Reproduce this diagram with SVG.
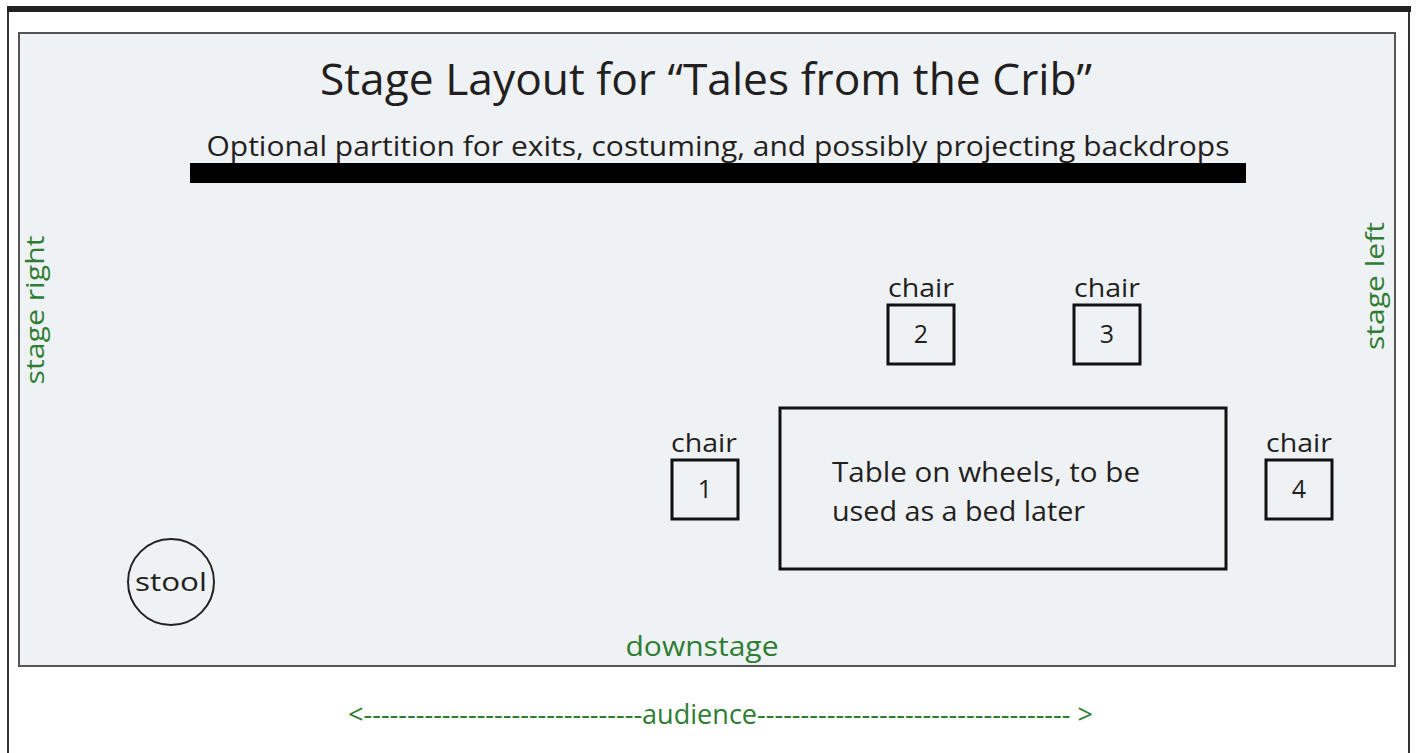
<svg xmlns="http://www.w3.org/2000/svg" width="1418" height="753" viewBox="0 0 1418 753">
<style>
.t{font-family:"Open Sans","Noto Sans","Liberation Sans",sans-serif;fill:#231f20}
.g{font-family:"Open Sans","Noto Sans","Liberation Sans",sans-serif;fill:#2e7d32}
.box{fill:none;stroke:#111;stroke-width:3}
</style>
<rect x="0" y="0" width="1418" height="753" fill="#fff"/>
<rect x="8" y="9" width="1401" height="760" fill="#fff" stroke="#333" stroke-width="2"/>
<rect x="7" y="6" width="1404" height="6" fill="#222"/>
<g id="stage">
<rect x="19" y="33" width="1376" height="633" fill="#eff2f5" stroke="#555" stroke-width="2"/>
</g>
<g id="title">
<text class="t" x="706" y="95" font-size="44" text-anchor="middle" textLength="772" lengthAdjust="spacingAndGlyphs">Stage Layout for “Tales from the Crib”</text>
</g>
<g id="partition">
<text class="t" x="718" y="156" font-size="28" text-anchor="middle" textLength="1023" lengthAdjust="spacingAndGlyphs">Optional partition for exits, costuming, and possibly projecting backdrops</text>
<rect x="190" y="163" width="1056" height="20" fill="#000"/>
</g>
<g id="stage-right">
<text class="g" transform="translate(44,310) rotate(-90)" font-size="26" text-anchor="middle" textLength="149" lengthAdjust="spacingAndGlyphs">stage right</text>
</g>
<g id="stage-left">
<text class="g" transform="translate(1384,286) rotate(-90)" font-size="26" text-anchor="middle" textLength="128" lengthAdjust="spacingAndGlyphs">stage left</text>
</g>
<g id="chair2">
<text class="t" x="921" y="297" font-size="26" text-anchor="middle" textLength="66" lengthAdjust="spacingAndGlyphs">chair</text>
<rect class="box" x="888" y="305" width="66" height="59"/>
<text class="t" x="921" y="343" font-size="25" text-anchor="middle">2</text>
</g>
<g id="chair3">
<text class="t" x="1107" y="297" font-size="26" text-anchor="middle" textLength="66" lengthAdjust="spacingAndGlyphs">chair</text>
<rect class="box" x="1074" y="305" width="66" height="59"/>
<text class="t" x="1107" y="343" font-size="25" text-anchor="middle">3</text>
</g>
<g id="chair1">
<text class="t" x="704" y="452" font-size="26" text-anchor="middle" textLength="66" lengthAdjust="spacingAndGlyphs">chair</text>
<rect class="box" x="672" y="460" width="66" height="59"/>
<text class="t" x="705" y="498" font-size="25" text-anchor="middle">1</text>
</g>
<g id="chair4">
<text class="t" x="1299" y="452" font-size="26" text-anchor="middle" textLength="66" lengthAdjust="spacingAndGlyphs">chair</text>
<rect class="box" x="1266" y="460" width="66" height="59"/>
<text class="t" x="1299" y="498" font-size="25" text-anchor="middle">4</text>
</g>
<g id="table">
<rect class="box" x="780" y="408" width="446" height="161"/>
<text class="t" x="832" y="482" font-size="27" textLength="308" lengthAdjust="spacingAndGlyphs">Table on wheels, to be</text>
<text class="t" x="832" y="521" font-size="27" textLength="253" lengthAdjust="spacingAndGlyphs">used as a bed later</text>
</g>
<g id="stool">
<circle cx="171" cy="582" r="43" fill="none" stroke="#222" stroke-width="2"/>
<text class="t" x="171" y="591" font-size="26" text-anchor="middle" textLength="72" lengthAdjust="spacingAndGlyphs">stool</text>
</g>
<g id="downstage">
<text class="g" x="702" y="656" font-size="27" text-anchor="middle" textLength="153" lengthAdjust="spacingAndGlyphs">downstage</text>
</g>
<g id="audience">
<text class="g" x="348" y="724" font-size="27" textLength="745" lengthAdjust="spacingAndGlyphs">&lt;--------------------------------audience------------------------------------ &gt;</text>
</g>
</svg>
